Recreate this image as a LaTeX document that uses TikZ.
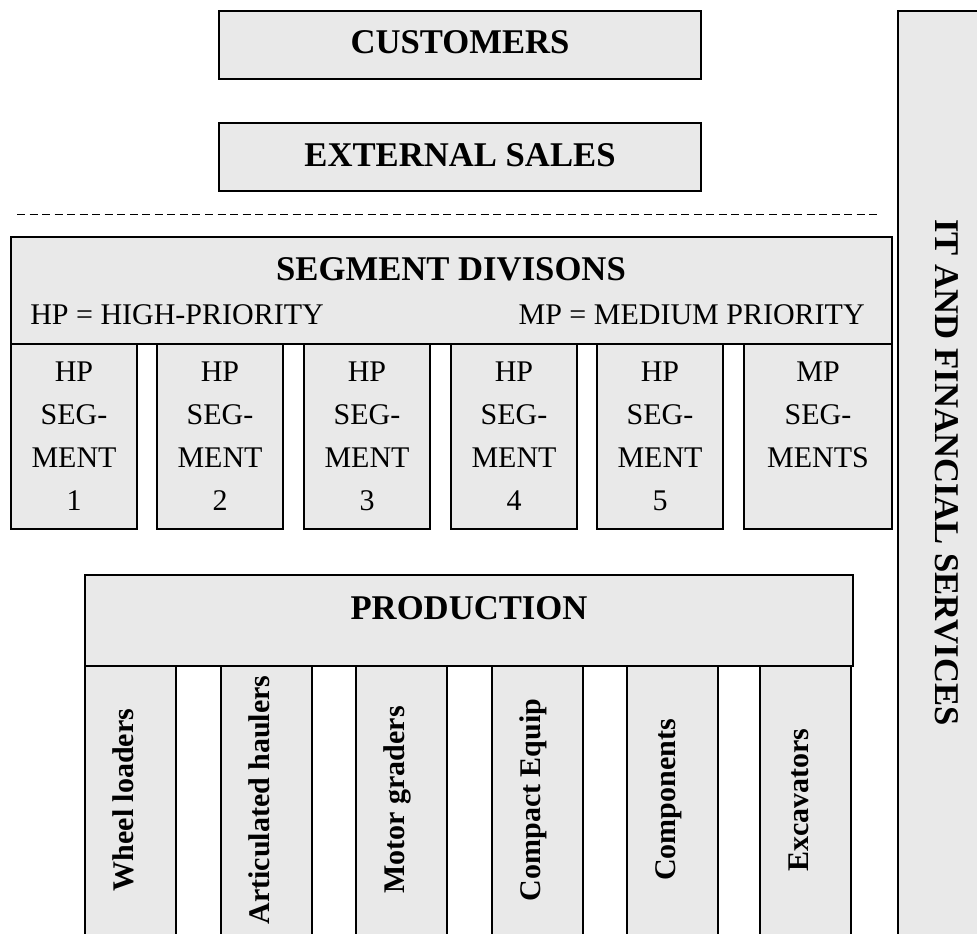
\documentclass[tikz,border=0pt]{standalone}
\usepackage{fontspec}
\setmainfont{Liberation Serif}
\usepackage{tikz}
\definecolor{boxgray}{HTML}{E9E9E9}
\tikzset{
  panel/.style={draw=black, fill=boxgray, line width=1pt},
  title/.style={inner sep=0pt, font=\fontsize{26}{30}\selectfont\bfseries},
  plaintext/.style={inner sep=0pt, font=\fontsize{22.5}{27}\selectfont},
  segtext/.style={anchor=north, align=center, inner sep=0pt, font=\fontsize{22.5}{32.25}\selectfont},
  linetext/.style={rotate=90, anchor=base, inner sep=0pt, font=\fontsize{22.5}{27}\selectfont\bfseries},
  divider/.style={line width=0.75pt, dash pattern=on 6pt off 3.4pt}
}

\begin{document}
\begin{tikzpicture}[x=0.75pt, y=-0.75pt]
    \useasboundingbox (0,0) rectangle (977,933);
    \clip (0,0) rectangle (977,933);

    % 1. Clientes y ventas externas
    \draw[panel] (219,11) rectangle (701,79);
    \node[title] (customers) at (460,42) {CUSTOMERS};
    \draw[panel] (219,123) rectangle (701,191);
    \node[title] (sales) at (460,155) {EXTERNAL SALES};

    % linea de separacion
    \draw[divider] (17,214) -- (877,214);

    % 2. Divisiones por segmento
    \draw[panel] (11,237) rectangle (892,344);
    \node[title] (segdiv) at (451,269) {SEGMENT DIVISONS};
    \node[plaintext, anchor=west] (hpkey) at (30,315) {HP = HIGH-PRIORITY};
    \node[plaintext, anchor=east] (mpkey) at (865,315) {MP = MEDIUM PRIORITY};

    \foreach \x/\n in {11/1, 157/2, 304/3, 451/4, 597/5} {
        \draw[panel] (\x,344) rectangle ++(126,185);
        \node[segtext] (hp\n) at (\x+63,362) {HP\\SEG-\\MENT\\\n};
    }
    \draw[panel] (744,344) rectangle (892,529);
    \node[segtext] (mp) at (818,362) {MP\\SEG-\\MENTS};

    % 3. Produccion y lineas de producto
    \draw[panel] (85,575) rectangle (853,666);
    \node[title] (production) at (469,608) {PRODUCTION};

    \foreach \x/\name/\txt in {85/wheel/Wheel loaders, 221/haulers/Articulated haulers,
        356/graders/Motor graders, 492/compact/Compact Equip,
        627/components/Components, 760/excavators/Excavators} {
        \draw[panel] (\x,666) rectangle ++(91,290);
        \node[linetext] (\name) at (\x+48.5,800) {\txt};
    }

    % 4. Servicios IT y financieros (columna derecha)
    \draw[panel] (898,11) rectangle (995,950);
    \node[title, rotate=-90, anchor=base] (itfin) at (935,472.5) {IT AND FINANCIAL SERVICES};

\end{tikzpicture}
\end{document}
